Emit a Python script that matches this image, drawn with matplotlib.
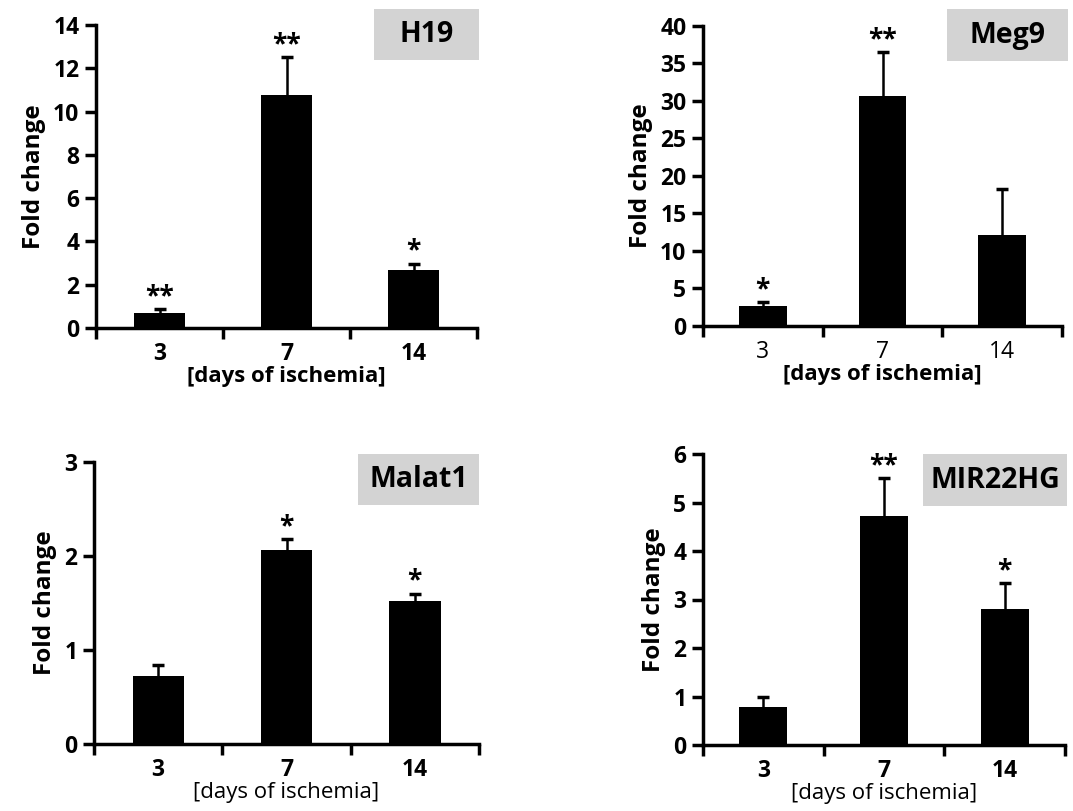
import matplotlib
matplotlib.use('Agg')
import matplotlib.pyplot as plt

plt.rcParams['font.family'] = ['Open Sans', 'DejaVu Sans']

# Data
days = ['3', '7', '14']

h19_mean = [0.68, 10.75, 2.68]
h19_err = [0.20, 1.75, 0.30]
h19_stars = ['**', '**', '*']

meg9_mean = [2.7, 30.6, 12.1]
meg9_err = [0.5, 5.9, 6.1]
meg9_stars = ['*', '**', '']

malat1_mean = [0.72, 2.06, 1.52]
malat1_err = [0.12, 0.12, 0.08]
malat1_stars = ['', '*', '*']

mir22hg_mean = [0.78, 4.73, 2.81]
mir22hg_err = [0.20, 0.77, 0.53]
mir22hg_stars = ['', '**', '*']

W, H = 1073, 811


def px_axes(fig, x0, y0, x1, y1):
    # axes from pixel box (top-left origin)
    return fig.add_axes([x0 / W, 1 - y1 / H, (x1 - x0) / W, (y1 - y0) / H])


def panel(ax, mean, err, stars, ymax, ystep, name, box,
          xtick_bold=True, xlab_bold=True):
    x = range(len(days))
    ax.bar(x, mean, width=0.4, color='black', zorder=3)
    eb = ax.errorbar(x, mean, yerr=[[0] * len(err), err], fmt='none', ecolor='black',
                     elinewidth=1.8, capsize=4, capthick=2.5, zorder=2)
    eb[1][0].set_visible(False)  # hide the lower caps
    for i, s in enumerate(stars):
        if s:
            ax.annotate(s, (i, mean[i] + err[i]), xytext=(0, 9), textcoords='offset points',
                        ha='center', va='center', fontsize=19, fontweight='bold')
    ax.set_xlim(-0.5, 2.5)
    ax.set_ylim(0, ymax)
    ax.set_yticks([v * ystep for v in range(int(round(ymax / ystep)) + 1)])
    ax.set_xticks([-0.5, 0.5, 1.5, 2.5])
    ax.set_xticklabels([])
    ax.set_xticks(list(x), minor=True)
    ax.set_xticklabels(days, minor=True, fontsize=16.5,
                       fontweight='bold' if xtick_bold else 'normal')
    ax.tick_params(axis='x', which='minor', length=0, pad=10)
    ax.tick_params(axis='x', which='major', length=8, width=2.5, direction='out')
    ax.tick_params(axis='y', length=8, width=2.5, direction='out', labelsize=16.5, pad=4)
    for lab in ax.get_yticklabels():
        lab.set_fontweight('bold')
    for side in ['top', 'right']:
        ax.spines[side].set_visible(False)
    for side in ['left', 'bottom']:
        ax.spines[side].set_linewidth(2.5)
    ax.set_ylabel('Fold change', fontsize=17.5, fontweight='bold', labelpad=5)
    ax.set_xlabel('[days of ischemia]', fontsize=16,
                  fontweight='bold' if xlab_bold else 'normal', labelpad=0)
    # grey name box, placed in figure pixels
    fig = ax.figure
    bx0, by0, bx1, by1 = box
    rect = plt.Rectangle((bx0 / W, 1 - by1 / H), (bx1 - bx0) / W, (by1 - by0) / H,
                         transform=fig.transFigure, facecolor='#d3d3d3',
                         edgecolor='none', zorder=0)
    fig.patches.append(rect)
    fig.text((bx0 + bx1) / 2 / W, 1 - (by0 + by1) / 2 / H, name, ha='center', va='center',
             fontsize=20.5, fontweight='bold')


fig = plt.figure(figsize=(W / 100, H / 100), dpi=100)

ax1 = px_axes(fig, 96, 25, 477, 328)
panel(ax1, h19_mean, h19_err, h19_stars, 14, 2, 'H19', (374, 9, 479, 60))

ax2 = px_axes(fig, 703, 26, 1062, 326)
panel(ax2, meg9_mean, meg9_err, meg9_stars, 40, 5, 'Meg9', (947, 9, 1068, 61),
      xtick_bold=False)

ax3 = px_axes(fig, 94, 462, 479, 744)
panel(ax3, malat1_mean, malat1_err, malat1_stars, 3, 1, 'Malat1', (358, 454, 479, 505),
      xlab_bold=False)

ax4 = px_axes(fig, 703, 454, 1065, 745)
panel(ax4, mir22hg_mean, mir22hg_err, mir22hg_stars, 6, 1, 'MIR22HG', (923, 454, 1067, 506),
      xlab_bold=False)

fig.savefig('out.png', dpi=100)
